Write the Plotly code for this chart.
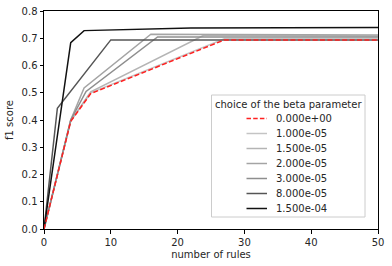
import plotly.graph_objects as go

labels = ["0.000e+00", "1.000e-05", "1.500e-05", "2.000e-05", "3.000e-05", "8.000e-05", "1.500e-04"]
legend_title = "choice of the beta parameter"
x_b0 = [0, 4, 7, 27, 50]
y_b0 = [0.0, 0.395, 0.497, 0.694, 0.694]
x_b1 = [0, 4, 7, 27, 50]
y_b1 = [0.0, 0.397, 0.50, 0.698, 0.700]
x_b15 = [0, 4, 7, 24, 50]
y_b15 = [0.0, 0.397, 0.503, 0.712, 0.708]
x_b2 = [0, 4, 6, 16, 50]
y_b2 = [0.0, 0.40, 0.518, 0.715, 0.712]
x_b3 = [0, 4, 6.3, 17, 50]
y_b3 = [0.0, 0.40, 0.505, 0.705, 0.705]
x_b8 = [0, 2, 10, 50]
y_b8 = [0.0, 0.443, 0.694, 0.694]
x_b150 = [0, 4, 6, 22, 50]
y_b150 = [0.0, 0.684, 0.728, 0.738, 0.739]

series = [(x_b0, y_b0), (x_b1, y_b1), (x_b15, y_b15), (x_b2, y_b2), (x_b3, y_b3), (x_b8, y_b8), (x_b150, y_b150)]
colors = ["#ff2020", "#c4c4c4", "#b4b4b4", "#a4a4a4", "#8e8e8e", "#555555", "#111111"]
dashes = ["5px,2.4px", "solid", "solid", "solid", "solid", "solid", "solid"]

W, H = 392, 266
L, R, T, B = 44, 14, 11, 37
pw, ph = W - L - R, H - T - B

def px(xp):
    return (xp - L) / pw

def py(yp):
    return (H - B - yp) / ph

fig = go.Figure()
for i in list(range(1, len(labels))) + [0]:
    xs, ys = series[i]
    fig.add_trace(go.Scatter(
        x=xs, y=ys, mode="lines", name=labels[i], showlegend=False,
        line=dict(color=colors[i], width=1.5, dash=dashes[i]),
    ))

font = "DejaVu Sans"
tc = "#262626"
shapes = []
annotations = []
shapes.append(dict(type="rect", xref="paper", yref="paper",
                   x0=px(211.5), x1=px(365), y0=py(217), y1=py(95),
                   line=dict(color="#cccccc", width=1), fillcolor="rgba(255,255,255,0.8)", layer="above"))
annotations.append(dict(text=legend_title, xref="paper", yref="paper", x=px(288.3), y=py(104),
                        xanchor="center", yanchor="middle", showarrow=False,
                        font=dict(family=font, size=10, color=tc)))
for i, lab in enumerate(labels):
    yy = 118.5 + 15 * i
    shapes.append(dict(type="line", xref="paper", yref="paper",
                       x0=px(246.5), x1=px(267), y0=py(yy), y1=py(yy),
                       line=dict(color=colors[i], width=1.5, dash="4.5px,2.2px" if i == 0 else "solid"),
                       layer="above"))
    annotations.append(dict(text=lab, xref="paper", yref="paper", x=px(274), y=py(yy),
                            xanchor="left", yanchor="middle", showarrow=False,
                            font=dict(family=font, size=10, color=tc)))

fig.update_layout(
    width=W, height=H,
    margin=dict(l=L, r=R, t=T, b=B),
    plot_bgcolor="white", paper_bgcolor="white",
    font=dict(family=font, size=10, color=tc),
    showlegend=False,
    shapes=shapes, annotations=annotations,
    xaxis=dict(
        range=[0, 50], tickvals=[0, 10, 20, 30, 40, 50],
        showline=True, linecolor="black", linewidth=1, mirror=True,
        ticks="outside", ticklen=3.5, tickcolor="black",
        showgrid=False, zeroline=False, automargin=False,
        title=dict(text="number of rules", standoff=4, font=dict(size=10)),
    ),
    yaxis=dict(
        range=[0, 0.8], tickvals=[0, 0.1, 0.2, 0.3, 0.4, 0.5, 0.6, 0.7, 0.8], tickformat=".1f",
        showline=True, linecolor="black", linewidth=1, mirror=True,
        ticks="outside", ticklen=3.5, tickcolor="black",
        showgrid=False, zeroline=False, automargin=False,
        title=dict(text="f1 score", standoff=6, font=dict(size=10)),
    ),
)
fig.write_html("out.html", config={"displayModeBar": False},
               post_script="document.body.style.margin='0';document.body.style.padding='0';document.body.style.overflow='hidden';")
